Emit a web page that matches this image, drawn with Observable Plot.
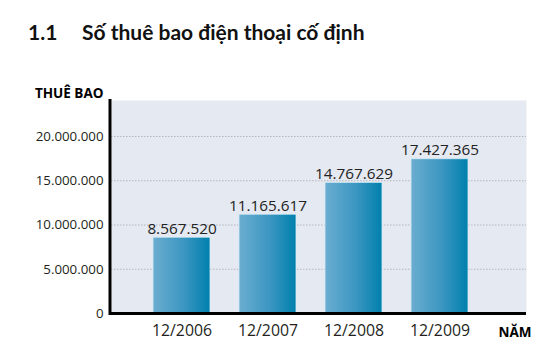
<!DOCTYPE html>
<html>
<head>
<meta charset="utf-8">
<script src="https://cdn.jsdelivr.net/npm/d3@7"></script>
<script src="https://cdn.jsdelivr.net/npm/@observablehq/plot@0.6"></script>
<style>
  html, body { margin: 0; padding: 0; background: #ffffff; }
  #wrap { position: relative; width: 550px; height: 364px; overflow: hidden; }
  #title { position: absolute; left: 0; top: 0; width: 550px; height: 60px;
           font-family: Lato, "Open Sans", sans-serif; font-weight: 700; font-size: 21px; color: #111; }
  #title .num { position: absolute; left: 28px; top: 19px; }
  #title .txt { position: absolute; left: 82px; top: 19px; }
  #chart { position: absolute; left: 0; top: 60px; }
</style>
</head>
<body>
<div id="wrap">
  <div id="title"><span class="num">1.1</span><span class="txt">Số thuê bao điện thoại cố định</span></div>
  <div id="chart"></div>
</div>
<script>
const categories = ["12/2006", "12/2007", "12/2008", "12/2009"];
const subscribers = [8567520, 11165617, 14767629, 17427365];
const yTicks = [0, 5000000, 10000000, 15000000, 20000000];
const yLabel = "THUÊ BAO";
const xLabel = "NĂM";

const data = categories.map((c, i) => ({period: c, value: subscribers[i]}));
const vn = d3.formatLocale({decimal: ",", thousands: ".", grouping: [3], currency: ["", ""]});
const fmt = vn.format(",d");

const font = "Open Sans, Lato, sans-serif";
const ink = "#231f20";

const plot = Plot.plot({
  width: 550,
  height: 304,
  marginTop: 40,
  marginBottom: 51,
  marginLeft: 111,
  marginRight: 24,
  style: {fontFamily: font, color: ink, background: "transparent"},
  x: {type: "band", domain: categories, paddingInner: 0.34, paddingOuter: 0.573, align: 0.42, label: null},
  y: {domain: [0, 24068000], label: null},
  marks: [
    Plot.frame({fill: "#e5e9f2", stroke: null}),
    Plot.ruleY(yTicks.filter(d => d > 0), {stroke: "#a8a8ad", strokeWidth: 0.8, strokeDasharray: "1.5,1.5"}),
    Plot.barY(data, {x: "period", y: "value", fill: "url(#barGrad)", stroke: "#d6ebf4", strokeWidth: 0.8}),
    Plot.text(data, {x: "period", y: "value", text: d => fmt(d.value), dy: -4, lineAnchor: "bottom",
                     fontSize: 15.3, fill: "#222"}),
    Plot.axisY({ticks: yTicks, tickFormat: fmt, tickSize: 0, tickPadding: 8, fontSize: 13.3, label: null}),
    Plot.axisX({tickSize: 0, tickPadding: 11, fontSize: 15.8, label: null}),
    Plot.ruleY([0], {stroke: "#000", strokeWidth: 3}),
    Plot.frame({anchor: "left", stroke: "#000", strokeWidth: 3, dx: -1.5}),
    Plot.text([yLabel], {frameAnchor: "top-left", text: d => d, dx: -8, dy: -3, textAnchor: "end",
                         lineAnchor: "bottom", fontWeight: 700, fontSize: 13.5, fill: "#000"}),
    Plot.text([xLabel], {frameAnchor: "bottom-right", text: d => d, dx: -28, dy: 19, textAnchor: "start",
                         lineAnchor: "middle", fontWeight: 700, fontSize: 13.5, fill: "#000"})
  ]
});

const ns = "http://www.w3.org/2000/svg";
const defs = document.createElementNS(ns, "defs");
const grad = document.createElementNS(ns, "linearGradient");
grad.setAttribute("id", "barGrad");
grad.setAttribute("x1", "0"); grad.setAttribute("x2", "1");
grad.setAttribute("y1", "0"); grad.setAttribute("y2", "0");
[["0%", "#6badd0"], ["55%", "#3a96c1"], ["100%", "#0080ad"]].forEach(([o, c]) => {
  const s = document.createElementNS(ns, "stop");
  s.setAttribute("offset", o); s.setAttribute("stop-color", c);
  grad.appendChild(s);
});
defs.appendChild(grad);
plot.insertBefore(defs, plot.firstChild);

document.getElementById("chart").appendChild(plot);
</script>
</body>
</html>
